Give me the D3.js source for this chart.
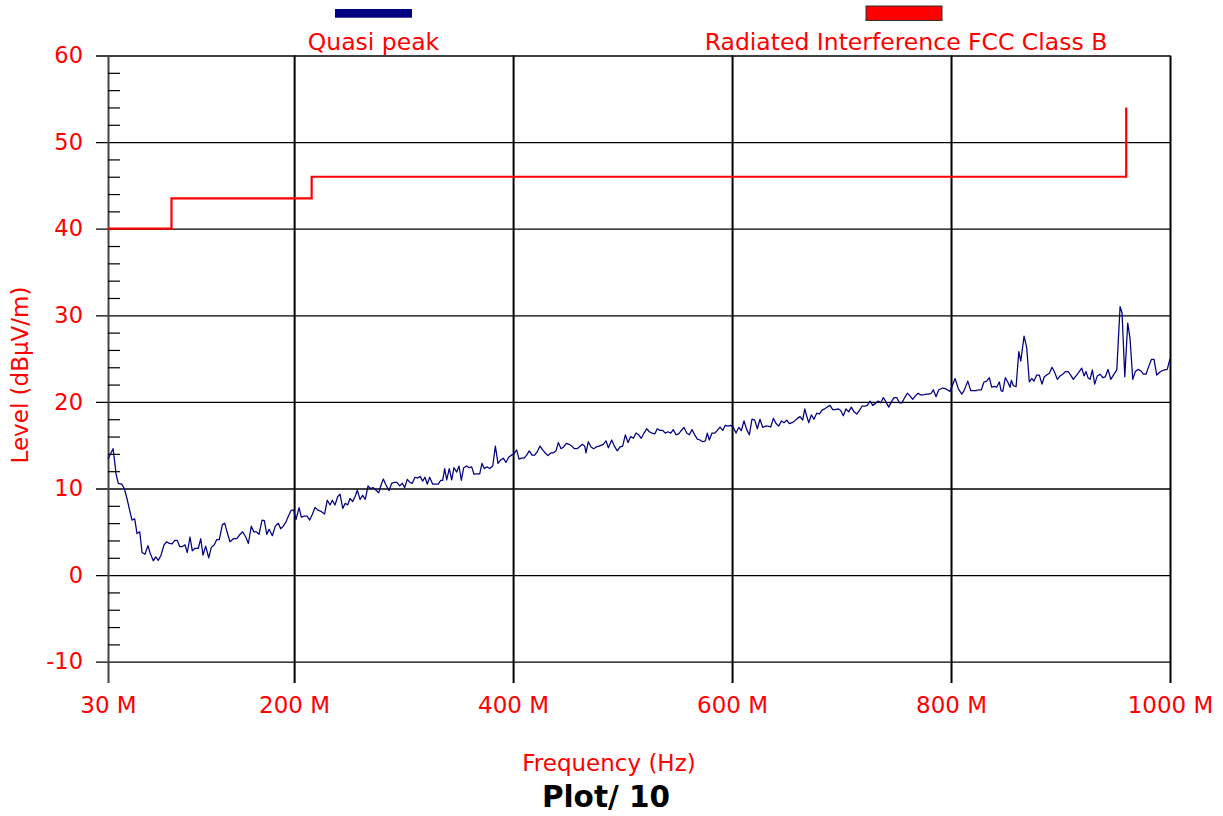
<!DOCTYPE html>
<html>
<head>
<meta charset="utf-8">
<script src="https://cdn.jsdelivr.net/npm/d3@7"></script>
<style>
  html, body { margin: 0; padding: 0; background: #fff; }
  svg { display: block; font-family: "DejaVu Sans", Verdana, sans-serif; }
</style>
</head>
<body>
<svg id="chart" width="1223" height="816"></svg>
<script>
// Quasi-peak sweep, frequency in MHz
const freqMHz = [
  30, 34.6, 36.1, 37.3, 39.4, 42.5, 44.9, 47.6, 50.1, 51.9,
  54.4, 56.5, 59.0, 61.1, 63.8, 66.5, 68.6, 71.4, 73.6, 75.9,
  78.4, 81.2, 83.6, 86.0, 88.5, 90.9, 93.3, 95.5, 97.9, 100.3,
  102.4, 104.9, 107.0, 109.5, 112.5, 114.7, 116.8, 119.2, 122.0, 124.4,
  127.1, 129.3, 131.7, 134.4, 136.6, 138.7, 141.4, 144.5, 147.6, 149.9,
  153.0, 155.8, 158.2, 160.9, 163.1, 165.5, 167.9, 170.7, 172.8, 175.0,
  177.1, 180.1, 182.8, 185.6, 187.7, 190.1, 192.6, 195.1, 197.4, 199.6,
  201.7, 204.5,
  206.6, 209.3, 211.8, 214.2, 216.6, 219.1, 221.8, 224.7, 227.8, 230.3,
  232.8, 234.9, 237.3, 239.8, 241.9, 244.4, 246.7, 248.9, 251.0, 253.5,
  255.6, 257.7, 260.2, 262.6, 265.0, 267.5, 269.6, 272.3, 274.8, 277.3,
  279.4, 281.5, 283.9, 286.7, 289.1, 291.5, 294.0, 296.4, 298.8, 301.0,
  303.4, 305.8, 307.9, 310.4, 312.9, 315.0, 317.4, 319.5, 321.6, 323.8,
  326.6, 329.3, 331.7, 333.9, 335.7, 337.5, 339.4, 341.7, 343.9, 346.0,
  348.5, 350.6, 352.7, 354.9, 357.6, 360.0, 362.2, 364.3, 367.0, 369.5,
  371.6, 373.7, 376.2, 378.6, 381.4, 383.8, 386.2, 388.7, 391.1, 393.5,
  396.0, 398.4, 400.8, 403.3, 405.4, 407.5, 410.0, 412.4, 414.8, 417.3,
  419.7, 422.1, 424.6, 427.0, 429.4, 431.9, 434.4, 436.7, 439.2, 441.3,
  443.8, 446.2, 448.6, 451.1, 453.5, 455.9, 458.4, 460.5, 462.9, 465.4,
  466.6, 468.7, 471.2, 473.6, 476.0, 478.5,
  482.4, 484.9, 487.0, 490.1, 492.5, 495.2, 497.7, 500.1, 502.5, 505.0,
  507.4, 509.8, 512.3, 514.7, 517.1, 519.6, 522.0, 524.4, 526.9, 529.4,
  531.7, 534.2, 536.7, 539.0, 541.5, 544.0, 546.3, 548.8, 551.3, 553.7,
  556.1, 558.6, 561.0, 563.4, 565.9, 568.3, 570.7, 573.2, 575.6, 577.4,
  579.2, 581.7, 584.2, 586.5, 589.0, 591.5, 593.8, 596.3, 598.8, 601.2,
  603.6, 606.1, 608.5, 610.9, 613.4, 615.8, 618.2, 620.7, 623.1, 625.5,
  628.0, 630.4, 632.9, 635.3, 637.7, 640.2, 642.6, 645.0, 647.5, 649.9,
  652.3, 654.8, 657.2, 659.6, 662.1, 664.5, 666.4, 668.1, 670.0, 672.4,
  674.8, 677.3, 679.7, 682.2, 684.6, 687.0, 689.5, 691.9, 694.3, 696.8,
  699.2, 701.6, 704.1, 706.5, 708.9, 711.4, 713.9, 716.2, 718.7, 721.2,
  723.5, 726.0, 728.5, 730.8, 733.3, 735.8, 738.2, 740.6, 743.1, 745.5,
  747.9, 750.4, 752.8, 755.2, 757.7, 760.1, 762.6, 765.0, 767.4, 769.9,
  772.3, 774.7, 777.2, 779.6, 782.0, 783.8, 786.3, 788.8,
  792.5, 795.5, 799.1, 803.7, 806.7, 809.8, 811.9, 815.3, 818.0, 820.4,
  822.8, 825.3, 827.7, 830.1, 832.6, 835.0, 837.1, 839.5, 841.7, 844.1,
  845.7, 847.2, 849.6, 851.8, 853.9, 855.1, 856.9, 859.4, 861.9, 863.7,
  866.7, 869.1, 871.5, 873.7, 875.8, 878.3, 880.6, 883.1, 885.2, 887.4,
  889.8, 892.3, 894.7, 897.1, 899.6, 902.0, 904.4, 906.9, 909.3, 911.7,
  914.2, 916.6, 919.4, 921.5, 923.3, 925.1, 927.0, 929.1, 931.2, 933.6,
  936.1, 938.6, 940.9, 943.4, 945.9, 948.3, 951.4, 954.4, 956.2, 958.7,
  961.4, 963.5, 966.0, 968.3, 970.8, 973.3, 975.7, 978.1, 980.6, 983.0,
  985.4, 987.9, 990.3, 992.7, 995.2, 997.5, 1000
];

// Quasi-peak level, dBµV/m
const quasiPeak = [
  13.4, 14.6, 13.1, 11.7, 10.6, 10.5, 10.0, 8.7, 7.3, 6.35,
  6.5, 4.8, 5.0, 2.6, 2.4, 3.4, 2.5, 1.65, 2.1, 1.7,
  2.3, 3.5, 3.85, 3.65, 3.6, 4.0, 4.0, 3.3, 3.3, 3.5,
  2.6, 4.4, 2.8, 3.1, 3.1, 4.2, 2.3, 3.35, 2.0, 3.2,
  3.5, 4.1, 4.1, 5.8, 6.0, 5.0, 3.85, 4.2, 4.2, 4.6,
  5.0, 4.4, 3.65, 5.65, 5.0, 5.0, 4.7, 6.35, 6.3, 4.7,
  5.3, 4.55, 5.65, 6.0, 5.35, 5.65, 6.15, 6.9, 7.5, 7.5,
  6.4, 7.8,
  6.7, 6.8, 6.8, 6.35, 7.0, 7.8, 7.5, 7.35, 7.05, 8.65,
  8.1, 8.65, 8.1, 9.05, 9.35, 7.7, 8.3, 8.1, 8.85, 8.5,
  9.05, 9.8, 8.75, 9.2, 8.75, 10.3, 10.0, 10.1, 9.8, 9.5,
  10.4, 11.1, 10.4, 9.75, 10.6, 10.7, 10.7, 10.3, 10.6, 10.1,
  11.05, 10.7, 10.6, 11.3, 11.2, 11.4, 10.85, 11.3, 10.5, 11.3,
  10.5, 10.5, 10.5, 10.95, 10.95, 12.3, 11.0, 12.3, 11.0, 12.4,
  11.9, 12.6, 10.95, 12.4, 12.6, 12.4, 12.5, 11.65, 11.7, 11.7,
  12.9, 12.3, 12.5, 12.3, 12.6, 14.9, 12.9, 13.3, 13.5, 13.0,
  13.6, 13.85, 14.0, 14.45, 13.4, 13.5, 13.5, 13.85, 14.35, 13.85,
  13.85, 14.25, 14.9, 14.45, 14.1, 13.8, 14.1, 14.1, 14.35, 15.3,
  14.6, 14.8, 15.2, 15.1, 14.9, 14.6, 14.6, 14.8, 15.1, 14.9,
  14.1, 15.4, 14.8, 14.6, 14.8, 14.9,
  15.1, 15.5, 14.7, 15.6, 14.9, 14.35, 14.8, 14.9, 16.2, 15.3,
  16.0, 15.8, 16.4, 16.2, 15.8, 16.4, 16.9, 16.55, 16.4, 16.3,
  16.9, 16.7, 16.7, 16.4, 16.55, 16.4, 16.8, 16.2, 16.3, 16.7,
  17.05, 16.4, 16.2, 16.8, 16.2, 15.7, 15.6, 15.4, 15.5, 16.4,
  15.6, 16.4, 16.4, 16.7, 17.1, 16.7, 17.3, 17.2, 17.3, 17.05,
  16.4, 17.05, 16.7, 17.8, 16.8, 16.2, 18.0, 17.9, 16.9, 18.0,
  17.05, 17.2, 17.2, 17.1, 18.1, 17.5, 17.2, 17.8, 17.6, 17.9,
  17.5, 17.6, 17.8, 18.1, 18.3, 17.9, 19.2, 18.4, 17.6, 18.5,
  18.0, 18.7, 18.6, 19.05, 19.2, 19.4, 19.6, 19.1, 19.1, 19.2,
  19.0, 18.4, 19.2, 18.85, 19.4, 18.85, 18.6, 19.0, 19.5, 19.5,
  19.6, 20.1, 19.6, 19.8, 20.1, 19.9, 20.5, 20.0, 19.4, 20.0,
  20.5, 20.5, 19.9, 19.9, 20.5, 21.0, 20.7, 20.3, 20.7, 21.0,
  20.8, 20.8, 20.9, 20.9, 21.0, 21.4, 20.6, 21.4,
  21.6, 21.5, 21.2, 22.7, 21.5, 20.9, 21.3, 22.4, 21.3, 21.3,
  21.3, 21.4, 21.4, 22.3, 22.4, 22.8, 21.7, 21.8, 21.7, 22.3,
  21.3, 21.2, 22.8, 22.3, 21.7, 22.5, 21.9, 21.75, 25.8, 24.7,
  27.6, 26.3, 22.3, 22.7, 22.4, 23.1, 23.1, 22.05, 22.9, 23.1,
  23.3, 24.0, 23.4, 22.6, 23.0, 23.2, 23.5, 23.5, 23.1, 22.6,
  23.0, 23.4, 23.9, 23.0, 23.5, 22.8, 22.6, 23.7, 22.05, 23.0,
  23.2, 22.8, 22.9, 23.75, 22.6, 23.1, 23.7, 31.0, 30.3, 22.9,
  29.1, 27.3, 22.6, 23.5, 23.75, 23.6, 23.2, 23.2, 24.1, 24.9,
  24.9, 23.1, 23.4, 23.6, 23.7, 23.75, 25.0
];

// FCC Class B radiated emission limit (step line)
const limitFreq  = [30, 88, 88, 216, 216, 960, 960];
const limitLevel = [40, 40, 43.5, 43.5, 46, 46, 54];

// Axis ticks
const xTicks = [30, 200, 400, 600, 800, 1000];
const yTicks = [-10, 0, 10, 20, 30, 40, 50, 60];
const yMinorTicks = [-8, -6, -4, -2, 2, 4, 6, 8, 12, 14, 16, 18, 22, 24, 26, 28,
                     32, 34, 36, 38, 42, 44, 46, 48, 52, 54, 56, 58];

// Legend
const seriesNames  = ["Quasi peak", "Radiated Interference FCC Class B"];
const seriesColors = ["#000080", "#ff0000"];

const svg = d3.select("#chart");
const RED = "#ff0000";
const FONT = "'DejaVu Sans', Verdana, sans-serif";

const x = d3.scaleLinear().domain([30, 1000]).range([108, 1170]);
const y = d3.scaleLinear().domain([-10, 60]).range([661.7, 55.5]);

const gridLeft = 96, plotRight = 1170, plotTop = 55.5, gridBottom = 683;

// Horizontal grid with the level labels
const yAxis = d3.axisLeft(y)
  .tickValues(yTicks)
  .tickSizeInner(plotRight - gridLeft)
  .tickSizeOuter(0)
  .tickPadding(13)
  .tickFormat(d => d);
const gy = svg.append("g")
  .attr("transform", `translate(${plotRight},0)`)
  .call(yAxis);
gy.select(".domain").remove();
gy.selectAll(".tick line").attr("stroke", "#000").attr("stroke-width", 1.3);
gy.selectAll(".tick text")
  .attr("fill", RED).attr("font-size", 22.5)
  .attr("font-family", FONT);

// Vertical grid with the frequency labels
const xAxis = d3.axisBottom(x)
  .tickValues(xTicks)
  .tickSizeInner(gridBottom - plotTop)
  .tickSizeOuter(0)
  .tickFormat(d => d + " M");
const gx = svg.append("g")
  .attr("transform", `translate(0,${plotTop})`)
  .call(xAxis);
gx.select(".domain").remove();
gx.selectAll(".tick line")
  .attr("stroke", d => d === 30 ? "#444" : "#000")
  .attr("stroke-width", 2);
gx.selectAll(".tick text")
  .attr("y", 713 - plotTop).attr("dy", null)
  .attr("fill", RED).attr("font-size", 23)
  .attr("font-family", FONT);

// Minor level ticks along the left axis
const yMinor = d3.axisRight(y)
  .tickValues(yMinorTicks)
  .tickSizeInner(12)
  .tickSizeOuter(0)
  .tickFormat("");
const gm = svg.append("g")
  .attr("transform", `translate(108,0)`)
  .call(yMinor);
gm.select(".domain").remove();
gm.selectAll(".tick line").attr("stroke", "#000").attr("stroke-width", 1.2);

// Limit line
const limitLine = d3.line()
  .x(i => x(limitFreq[i]))
  .y(i => y(limitLevel[i]));
svg.append("path")
  .attr("d", limitLine(d3.range(limitFreq.length)))
  .attr("fill", "none")
  .attr("stroke", seriesColors[1])
  .attr("stroke-width", 2.2);

// Quasi-peak trace
const qpLine = d3.line()
  .x(i => x(freqMHz[i]))
  .y(i => y(quasiPeak[i]));
svg.append("path")
  .attr("d", qpLine(d3.range(freqMHz.length)))
  .attr("fill", "none")
  .attr("stroke", seriesColors[0])
  .attr("stroke-width", 1.25)
  .attr("stroke-linejoin", "round");

// Legend
const legendItems = [
  { cx: 373.5, sw: { x: 335, y: 9, w: 77, h: 8.7, stroke: "none" } },
  { cx: 906, sw: { x: 866, y: 6, w: 76, h: 14.5, stroke: "#333" } }
];
legendItems.forEach((item, i) => {
  svg.append("rect")
    .attr("x", item.sw.x).attr("y", item.sw.y)
    .attr("width", item.sw.w).attr("height", item.sw.h)
    .attr("fill", seriesColors[i])
    .attr("stroke", item.sw.stroke).attr("stroke-width", 1);
  svg.append("text")
    .attr("x", item.cx).attr("y", 50)
    .attr("text-anchor", "middle")
    .attr("fill", RED).attr("font-size", 23.5)
    .text(seriesNames[i]);
});

// Axis titles
svg.append("text")
  .attr("transform", "translate(28,375) rotate(-90)")
  .attr("text-anchor", "middle")
  .attr("fill", RED).attr("font-size", 23)
  .text("Level (dBµV/m)");

svg.append("text")
  .attr("x", 609).attr("y", 771)
  .attr("text-anchor", "middle")
  .attr("fill", RED).attr("font-size", 23)
  .text("Frequency (Hz)");

svg.append("text")
  .attr("x", 606).attr("y", 807)
  .attr("text-anchor", "middle")
  .attr("fill", "#000").attr("font-size", 29.5).attr("font-weight", "bold")
  .text("Plot/ 10");
</script>
</body>
</html>
